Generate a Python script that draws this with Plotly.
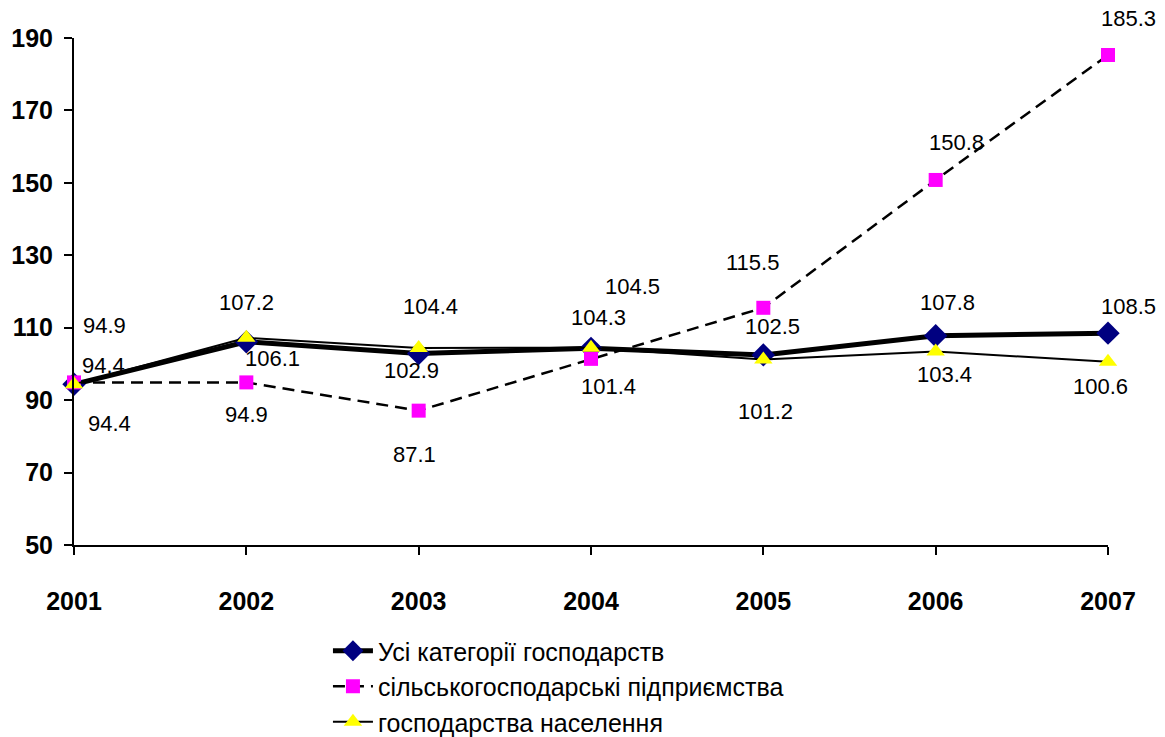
import plotly.graph_objects as go

years = ["2001", "2002", "2003", "2004", "2005", "2006", "2007"]
all_cat = [94.4, 106.1, 102.9, 104.3, 102.5, 107.8, 108.5]
enterprises = [94.9, 94.9, 87.1, 101.4, 115.5, 150.8, 185.3]
households = [94.4, 107.2, 104.4, 104.5, 101.2, 103.4, 100.6]

names = ["Усі категорії господарств", "сільськогосподарські підприємства", "господарства населення"]
y_ticks = [50, 70, 90, 110, 130, 150, 170, 190]

# label pixel offsets (dx, dy) relative to each point (styling only)
off_all = [(29, -19), (26, 17), (-7, 17), (7, -31), (9, -28), (12, -33), (20, -27)]
off_ent = [(30, -57), (0, 32), (-4, 44), (17, 28), (-11, -45), (21, -37), (20, -37)]
off_hh = [(35, 39), (0, -35), (12, -41), (41, -61), (2, 52), (9, 23), (-8, 25)]

FONT = "Liberation Sans, Arial, sans-serif"
xs = list(range(len(years)))

fig = go.Figure()
fig.add_trace(go.Scatter(x=xs, y=all_cat, name=names[0], mode="lines+markers",
                         line=dict(color="black", width=5),
                         marker=dict(symbol="diamond", size=18, color="#000080")))
fig.add_trace(go.Scatter(x=xs, y=enterprises, name=names[1], mode="lines+markers",
                         line=dict(color="black", width=2.5, dash="12px,7px"),
                         marker=dict(symbol="square", size=14, color="#FF00FF")))
fig.add_trace(go.Scatter(x=xs, y=households, name=names[2], mode="lines+markers",
                         line=dict(color="black", width=2),
                         marker=dict(symbol="triangle-up", size=16, color="#FFFF00")))

ann = []
for series, offs in ((all_cat, off_all), (enterprises, off_ent), (households, off_hh)):
    for i, v in enumerate(series):
        dx, dy = offs[i]
        ann.append(dict(x=xs[i], y=v, xref="x", yref="y", text=f"{v:.1f}", showarrow=False,
                        xshift=dx, yshift=-dy, font=dict(family=FONT, size=22, color="black")))

fig.update_layout(
    width=1165, height=737,
    margin=dict(l=74, r=57, t=38, b=192),
    paper_bgcolor="white", plot_bgcolor="white",
    font=dict(family=FONT, color="black"),
    annotations=ann,
    showlegend=True,
    legend=dict(orientation="v", xref="paper", x=0.2456, yref="container", y=1 - 628 / 737,
                xanchor="left", yanchor="top",
                font=dict(family=FONT, size=25, color="black"),
                tracegroupgap=0, itemwidth=40, bgcolor="rgba(0,0,0,0)"),
    xaxis=dict(range=[0, 6], tickmode="array", tickvals=xs, ticktext=years, automargin=False,
               showgrid=False, zeroline=False, showline=True, linecolor="black", linewidth=2,
               ticks="outside", ticklen=8, tickwidth=2, tickcolor="black",
               ticklabelstandoff=25,
               tickfont=dict(family=FONT, size=25, color="black", weight="bold")),
    yaxis=dict(range=[50, 190], tickvals=y_ticks, showgrid=False, zeroline=False, automargin=False,
               showline=True, linecolor="black", linewidth=2,
               ticks="outside", ticklen=8, tickwidth=2, tickcolor="black",
               ticklabelstandoff=6,
               tickfont=dict(family=FONT, size=25, color="black", weight="bold")),
)
for tr in fig.data:
    tr.cliponaxis = False

fig.write_html("out.html", config={"displayModeBar": False},
               post_script="document.body.style.margin='0';")
